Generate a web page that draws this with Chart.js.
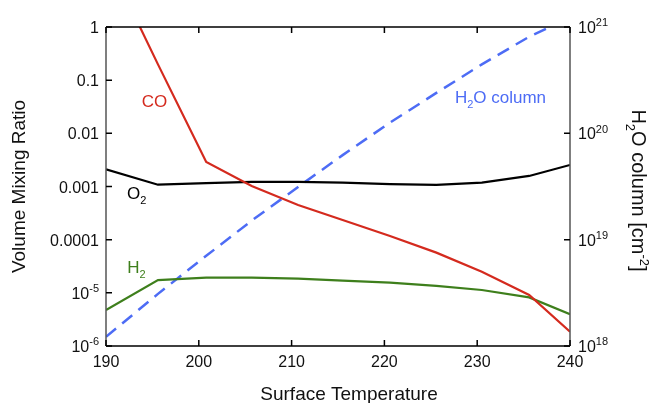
<!DOCTYPE html>
<html>
<head>
<meta charset="utf-8">
<script src="https://cdn.jsdelivr.net/npm/chart.js@4/dist/chart.umd.min.js"></script>
<style>
  html, body { margin: 0; padding: 0; background: #fff; }
  #wrap { width: 652px; height: 403px; }
</style>
</head>
<body>
<div id="wrap"><canvas id="chart" width="652" height="403"></canvas></div>
<script>
// surface temperature grid (K)
const temps = [190, 195.6, 200.8, 205.7, 210.7, 215.5, 220.6, 225.6, 230.5, 235.6, 240]

// volume mixing ratios
const coMix = [21, 0.198, 0.0029, 0.00102, 4.5e-4, 2.35e-4, 1.17e-4, 5.7e-5, 2.5e-5, 9.1e-6, 1.86e-6]
const o2Mix = [0.0021, 0.00108, 0.00116, 0.00122, 0.00122, 0.00118, 0.00111, 0.00107, 0.00118, 0.00158, 0.00254]
const h2Mix = [4.75e-6, 1.74e-5, 1.93e-5, 1.93e-5, 1.85e-5, 1.69e-5, 1.56e-5, 1.35e-5, 1.13e-5, 8.2e-6, 3.95e-6]

// water column (cm^-2), right axis
const h2oColumn = [1.22e18, 3.09e18, 7.05e18, 1.51e19, 3.13e19, 6.24e19, 1.26e20, 2.40e20, 4.45e20, 8.1e20, 1.23e21]

// tick values
const xTicks = [190, 200, 210, 220, 230, 240]
const mixTicks = [1, 0.1, 0.01, 0.001, 0.0001, 1e-5, 1e-6]
const mixTickLabels = [['1'], ['0.1'], ['0.01'], ['0.001'], ['0.0001'], ['10', '-5'], ['10', '-6']]
const colTicks = [1e21, 1e20, 1e19, 1e18]
const colTickLabels = [['10', '21'], ['10', '20'], ['10', '19'], ['10', '18']]

const RED = '#d42a1e'
const GREEN = '#3e7f1c'
const BLUE = '#4d6cf5'
const FONT = '"Liberation Sans", Arial, sans-serif'

function pts(ys) {
    return temps.map((t, i) => ({x: t, y: ys[i]}))
}

// text with optional sub/superscript pieces: [{t, sub}, {t, sup}]
function richWidth(ctx, parts, size) {
    let w = 0
    parts.forEach(p => {
        ctx.font = ((p.sub || p.sup) ? Math.round(size * 0.66) : size) + 'px ' + FONT
        w += ctx.measureText(p.t).width
    })
    return w
}
function drawRich(ctx, parts, x, y, size, align) {
    let w = richWidth(ctx, parts, size)
    let cx = align === 'right' ? x - w : align === 'center' ? x - w / 2 : x
    ctx.textAlign = 'left'
    parts.forEach(p => {
        let small = p.sub || p.sup
        ctx.font = (small ? Math.round(size * 0.66) : size) + 'px ' + FONT
        let dy = p.sub ? size * 0.3 : p.sup ? -size * 0.42 : 0
        ctx.fillText(p.t, cx, y + dy)
        cx += ctx.measureText(p.t).width
    })
}
function powParts(lbl) {
    return lbl.length > 1 ? [{t: lbl[0]}, {t: lbl[1], sup: true}] : [{t: lbl[0]}]
}

// in-plot labels, placed in data coordinates of the left axis
const seriesLabels = [
    {parts: [{t: 'CO'}], x: 193.85, y: 0.0313, color: RED},
    {parts: [{t: 'O'}, {t: '2', sub: true}], x: 192.26, y: 5.8e-4, color: '#000'},
    {parts: [{t: 'H'}, {t: '2', sub: true}], x: 192.3, y: 2.36e-5, color: GREEN},
    {parts: [{t: 'H'}, {t: '2', sub: true}, {t: 'O column'}], x: 227.6, y: 0.0372, color: BLUE}
]

const framePlugin = {
    id: 'frame',
    afterDraw(chart) {
        const ctx = chart.ctx
        const a = chart.chartArea
        const sx = chart.scales.x, sy = chart.scales.y, sy2 = chart.scales.y2
        const tl = 6
        ctx.save()
        ctx.lineWidth = 1.5
        ctx.strokeStyle = '#000'
        ctx.beginPath()
        ctx.moveTo(a.left, a.top); ctx.lineTo(a.right, a.top)
        ctx.moveTo(a.left, a.bottom); ctx.lineTo(a.right, a.bottom)
        ctx.stroke()
        ctx.strokeStyle = '#555'
        ctx.beginPath()
        ctx.moveTo(a.left, a.top); ctx.lineTo(a.left, a.bottom)
        ctx.moveTo(a.right, a.top); ctx.lineTo(a.right, a.bottom)
        ctx.stroke()

        // inward ticks
        ctx.strokeStyle = '#000'
        ctx.beginPath()
        xTicks.forEach(v => {
            let px = sx.getPixelForValue(v)
            ctx.moveTo(px, a.bottom); ctx.lineTo(px, a.bottom - tl)
            ctx.moveTo(px, a.top); ctx.lineTo(px, a.top + tl)
        })
        mixTicks.forEach(v => {
            let py = sy.getPixelForValue(v)
            ctx.moveTo(a.left, py); ctx.lineTo(a.left + tl, py)
        })
        colTicks.forEach(v => {
            let py = sy2.getPixelForValue(v)
            ctx.moveTo(a.right, py); ctx.lineTo(a.right - tl, py)
        })
        ctx.stroke()

        // tick labels
        ctx.fillStyle = '#111'
        ctx.textBaseline = 'alphabetic'
        xTicks.forEach(v => {
            drawRich(ctx, [{t: String(v)}], sx.getPixelForValue(v), a.bottom + 21, 16, 'center')
        })
        mixTicks.forEach((v, i) => {
            drawRich(ctx, powParts(mixTickLabels[i]), a.left - 7, sy.getPixelForValue(v) + 6, 16, 'right')
        })
        colTicks.forEach((v, i) => {
            drawRich(ctx, powParts(colTickLabels[i]), a.right + 8, sy2.getPixelForValue(v) + 6, 16, 'left')
        })

        // axis titles
        drawRich(ctx, [{t: 'Surface Temperature'}], (a.left + a.right) / 2 + 11, 400, 19, 'center')

        ctx.save()
        ctx.translate(25, (a.top + a.bottom) / 2)
        ctx.rotate(-Math.PI / 2)
        drawRich(ctx, [{t: 'Volume Mixing Ratio'}], 0, 0, 19, 'center')
        ctx.restore()

        ctx.save()
        ctx.translate(632, (a.top + a.bottom) / 2 + 4)
        ctx.rotate(Math.PI / 2)
        drawRich(ctx, [{t: 'H'}, {t: '2', sub: true}, {t: 'O column ['}, {t: 'cm'}, {t: '-2', sup: true}, {t: ']'}], 0, 0, 20, 'center')
        ctx.restore()

        // series labels
        seriesLabels.forEach(l => {
            ctx.fillStyle = l.color
            drawRich(ctx, l.parts, sx.getPixelForValue(l.x), sy.getPixelForValue(l.y), 17, 'left')
        })
        ctx.restore()
    }
}

let mixChart = new Chart(document.getElementById('chart').getContext('2d'), {
    type: 'line',
    data: {
        datasets: [
            {label: 'CO', data: pts(coMix), borderColor: RED, borderWidth: 2.2, yAxisID: 'y'},
            {label: 'O2', data: pts(o2Mix), borderColor: '#000', borderWidth: 2.2, yAxisID: 'y'},
            {label: 'H2', data: pts(h2Mix), borderColor: GREEN, borderWidth: 2.2, yAxisID: 'y'},
            {label: 'H2O column', data: pts(h2oColumn), borderColor: BLUE, borderWidth: 2.5, borderDash: [13, 8], yAxisID: 'y2'}
        ]
    },
    options: {
        responsive: false,
        animation: false,
        events: [],
        layout: {padding: {left: 106, right: 82, top: 27, bottom: 57}},
        elements: {point: {radius: 0}, line: {tension: 0, fill: false}},
        plugins: {legend: {display: false}, tooltip: {enabled: false}},
        scales: {
            x: {type: 'linear', min: 190, max: 240, display: false},
            y: {type: 'logarithmic', min: 1e-6, max: 1, display: false},
            y2: {type: 'logarithmic', min: 1e18, max: 1e21, display: false, position: 'right'}
        }
    },
    plugins: [framePlugin]
})
</script>
</body>
</html>
